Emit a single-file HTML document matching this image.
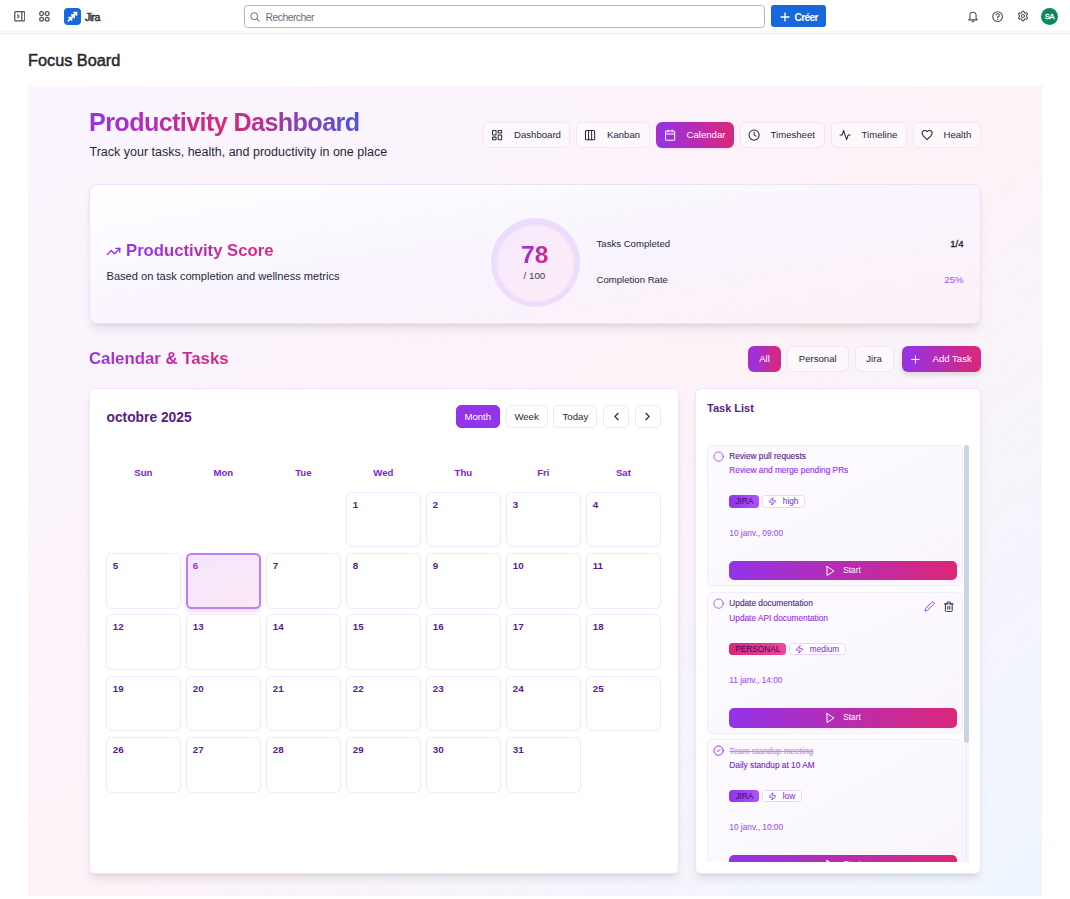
<!DOCTYPE html>
<html><head><meta charset="utf-8">
<style>
*{box-sizing:border-box;margin:0;padding:0}
html,body{width:1070px;height:899px;overflow:hidden;background:#fff}
body{font-family:"Liberation Sans",sans-serif;position:relative;color:#1f2937}
.abs{position:absolute}
svg{display:block}
/* top nav */
#topnav{position:absolute;left:0;top:0;width:1070px;height:34px;border-bottom:1px solid #ededef;box-shadow:inset 0 -2px 0 #f8f8f9;background:#fff}
/* panel */
#panel{position:absolute;left:28px;top:86px;width:1014px;height:810px;
 background:linear-gradient(to bottom right,#faf5ff 0%,#fdf2f8 50%,#eff6ff 100%)}
.grad-text{background:linear-gradient(90deg,#9333ea,#db2777,#4b55dc);-webkit-background-clip:text;background-clip:text;color:transparent}
.grad-text2{background:linear-gradient(90deg,#9333ea,#db2777);-webkit-background-clip:text;background-clip:text;color:transparent}
.navbtn{position:absolute;top:122px;height:25.5px;border:1px solid #f1e6f1;border-radius:6px;background:rgba(255,255,255,0.45);font-size:9.6px;color:#1f2937;line-height:23.5px;white-space:nowrap}
.navbtn svg{position:absolute;top:5.6px;left:7.3px}
.navbtn span{position:absolute;left:30px;top:0}
.navbtn.active{background:linear-gradient(90deg,#9333ea,#db2777);border-color:transparent;color:#fff;box-shadow:0 1px 2px rgba(147,51,234,.12)}
.card{position:absolute;background:#fff;border:1px solid #efe3fd;border-radius:5.5px;box-shadow:0 7px 10px -2px rgba(0,0,0,.09),0 3px 4px -3px rgba(0,0,0,.09)}
.fbtn{position:absolute;top:346.3px;height:25.4px;border:1px solid #f1e6f1;border-radius:6px;background:rgba(255,255,255,0.45);font-size:9.6px;color:#1f2937;line-height:23.4px;text-align:center;white-space:nowrap}
.cbtn{position:absolute;top:405.2px;height:22.4px;border:1px solid #ebebef;border-radius:5px;background:#fff;font-size:9.6px;color:#1f2937;line-height:21px;text-align:center}
.cell{position:absolute;width:74.4px;height:55.6px;border:1px solid #f2e8fe;border-radius:5.5px;background:#fff}
.cell b{position:absolute;left:5.5px;top:5px;font-size:9.8px;line-height:14px;color:#581c87;font-weight:700}
.dow{position:absolute;top:466px;width:74.4px;text-align:center;font-size:9.6px;line-height:14px;font-weight:700;color:#7e22ce}
.cell.today{border:2px solid #bb80f8;background:linear-gradient(to bottom right,#f3e6fd,#fce8f4);box-shadow:0 3px 5px rgba(120,50,180,.15)}
.cell.today b{left:4.5px;top:4px;color:#9333ea}
.task{position:absolute;left:0;width:256.3px;height:141.5px;border:1px solid #f3eafd;border-radius:5.5px;background:linear-gradient(to bottom right,#fdfbff,#faf5fe)}
.tt{position:absolute;left:21.6px;font-size:8.3px;line-height:11px;white-space:nowrap;-webkit-text-stroke:0.12px currentColor}
.badge{position:absolute;height:12.4px;border-radius:3.5px;font-size:8.3px;line-height:12.4px;color:#3b0764;text-align:center}
.badge.pri{background:#fff;border:1px solid #e9d5ff;line-height:10.4px;color:#7e22ce;text-align:left}
.startbtn{position:absolute;left:21.7px;top:115px;width:227.6px;height:19.7px;border-radius:5px;background:linear-gradient(90deg,#9333ea,#db2777);color:#fff;font-size:8.3px;line-height:19px}
</style></head>
<body>
<div id="topnav">
 <svg class="abs" style="left:13.5px;top:11.2px" width="11.5" height="10.5" viewBox="0 0 12 11"><rect x="0.75" y="0.75" width="10.5" height="9.5" rx="1.2" fill="none" stroke="#505258" stroke-width="1.3"/><line x1="8.2" y1="1" x2="8.2" y2="10" stroke="#505258" stroke-width="1.3"/><path d="M3.4 3.6 L5.2 5.5 L3.4 7.4" fill="none" stroke="#505258" stroke-width="1.2"/></svg>
 <svg class="abs" style="left:39px;top:11px" width="11" height="11" viewBox="0 0 11 11"><g fill="none" stroke="#505258" stroke-width="1.25"><circle cx="2.6" cy="2.6" r="1.9"/><circle cx="8.2" cy="2.6" r="1.9"/><circle cx="2.6" cy="8.2" r="1.9"/><circle cx="8.2" cy="8.2" r="1.9"/></g></svg>
 <div class="abs" style="left:64px;top:8px;width:17px;height:17px;border-radius:4px;background:#1868db"></div>
 <svg class="abs" style="left:64px;top:8px" width="17" height="17" viewBox="0 0 17 17"><g fill="none" stroke="#fff" stroke-width="1.55" stroke-linejoin="miter" stroke-linecap="butt"><path d="M9.4 4.6 H12.6 V7.8 M12.4 4.8 L9.3 7.9"/><path d="M7 7 H10.2 V10.2 M10 7.2 L6.9 10.3"/><path d="M4.4 9.6 H7.6 V12.8 M7.4 9.8 L3.8 13.4"/></g></svg>
 <div class="abs" style="left:85px;top:10px;font-size:10.6px;line-height:14px;font-weight:400;-webkit-text-stroke:0.4px #292a2e;color:#292a2e;letter-spacing:-0.6px">Jira</div>
 <div class="abs" style="left:244px;top:5px;width:521px;height:23px;border:1px solid #b5b7bd;border-radius:3.5px;background:#fff"></div>
 <svg class="abs" style="left:250px;top:12px" width="10" height="10" viewBox="0 0 11 11"><circle cx="4.6" cy="4.6" r="3.8" fill="none" stroke="#6b6e76" stroke-width="1.1"/><line x1="7.4" y1="7.4" x2="10" y2="10" stroke="#6b6e76" stroke-width="1.2" stroke-linecap="round"/></svg>
 <div class="abs" style="left:265.6px;top:10.8px;font-size:10.4px;line-height:14px;color:#6b6e76;letter-spacing:-0.55px">Rechercher</div>
 <div class="abs" style="left:771px;top:5.3px;width:55px;height:22px;border-radius:3px;background:#1868db"></div>
 <svg class="abs" style="left:779.5px;top:11.5px" width="10" height="10" viewBox="0 0 10 10"><path d="M5 0.5 V9.5 M0.5 5 H9.5" stroke="#fff" stroke-width="1.3"/></svg>
 <div class="abs" style="left:794.5px;top:10.8px;font-size:10.2px;line-height:14px;font-weight:700;color:#fff;letter-spacing:-0.65px">Créer</div>
 <svg class="abs" style="left:966.5px;top:10.5px" width="12" height="12" viewBox="0 0 12 12"><path d="M2.9 7.6 V4.6 A3.1 3.4 0 0 1 9.1 4.6 V7.6 L10.3 8.9 H1.7 Z" fill="none" stroke="#505258" stroke-width="1.15" stroke-linejoin="round"/><path d="M4.8 9.4 A1.2 1.2 0 0 0 7.2 9.4" fill="none" stroke="#505258" stroke-width="1.15"/></svg>
 <svg class="abs" style="left:992px;top:11px" width="11.2" height="11.2" viewBox="0 0 12 12"><circle cx="6" cy="6" r="5.2" fill="none" stroke="#505258" stroke-width="1.2"/><path d="M4.3 4.6 A1.75 1.75 0 1 1 6.6 6.3 C6.1 6.5 6 6.8 6 7.4" fill="none" stroke="#505258" stroke-width="1.2"/><circle cx="6" cy="9" r="0.75" fill="#505258"/></svg>
 <svg class="abs" style="left:1016.5px;top:10px" width="12" height="12" viewBox="0 0 24 24"><path d="M12.22 2h-.44a2 2 0 0 0-2 2v.18a2 2 0 0 1-1 1.73l-.43.25a2 2 0 0 1-2 0l-.15-.08a2 2 0 0 0-2.73.73l-.22.38a2 2 0 0 0 .73 2.73l.15.1a2 2 0 0 1 1 1.72v.51a2 2 0 0 1-1 1.74l-.15.09a2 2 0 0 0-.73 2.73l.22.38a2 2 0 0 0 2.73.73l.15-.08a2 2 0 0 1 2 0l.43.25a2 2 0 0 1 1 1.73V20a2 2 0 0 0 2 2h.44a2 2 0 0 0 2-2v-.18a2 2 0 0 1 1-1.73l.43-.25a2 2 0 0 1 2 0l.15.08a2 2 0 0 0 2.73-.73l.22-.39a2 2 0 0 0-.73-2.73l-.15-.08a2 2 0 0 1-1-1.74v-.5a2 2 0 0 1 1-1.74l.15-.09a2 2 0 0 0 .73-2.73l-.22-.38a2 2 0 0 0-2.73-.73l-.15.08a2 2 0 0 1-2 0l-.43-.25a2 2 0 0 1-1-1.73V4a2 2 0 0 0-2-2z" fill="none" stroke="#505258" stroke-width="2.2"/><circle cx="12" cy="12" r="3" fill="none" stroke="#505258" stroke-width="2.2"/></svg>
 <div class="abs" style="left:1041px;top:8px;width:17px;height:17px;border-radius:50%;background:#0a8a58;color:#fff;font-size:7.6px;font-weight:400;-webkit-text-stroke:0.3px #fff;line-height:17.4px;text-align:center;letter-spacing:-0.4px">SA</div>
</div>
<div class="abs" style="left:28px;top:50.4px;font-size:16.3px;line-height:20px;color:#292a2e;font-weight:400;-webkit-text-stroke:0.5px #292a2e;letter-spacing:0px">Focus Board</div>
<div id="panel"></div>
<div class="abs grad-text" style="left:89px;top:106.5px;font-size:25.2px;line-height:30px;font-weight:700;letter-spacing:-0.62px;padding-right:1px">Productivity Dashboard</div>
<div class="abs" style="left:89.5px;top:143.5px;font-size:12.5px;line-height:17px;color:#1f2937">Track your tasks, health, and productivity in one place</div>
<div class="navbtn" style="left:483px;width:86.5px"><svg width="12.2" height="12.2" viewBox="0 0 24 24" fill="none" stroke="#1f2937" stroke-width="2" stroke-linecap="round" stroke-linejoin="round" style=""><rect width="7" height="9" x="3" y="3" rx="1"/><rect width="7" height="5" x="14" y="3" rx="1"/><rect width="7" height="9" x="14" y="12" rx="1"/><rect width="7" height="5" x="3" y="16" rx="1"/></svg><span>Dashboard</span></div>
<div class="navbtn" style="left:576px;width:73.5px"><svg width="12.2" height="12.2" viewBox="0 0 24 24" fill="none" stroke="#1f2937" stroke-width="2" stroke-linecap="round" stroke-linejoin="round" style=""><rect width="18" height="18" x="3" y="3" rx="2"/><path d="M9 3v18"/><path d="M15 3v18"/></svg><span>Kanban</span></div>
<div class="navbtn active" style="left:655.5px;width:78.5px"><svg width="12.2" height="12.2" viewBox="0 0 24 24" fill="none" stroke="#fff" stroke-width="2" stroke-linecap="round" stroke-linejoin="round" style=""><path d="M8 2v4"/><path d="M16 2v4"/><rect width="18" height="18" x="3" y="4" rx="2"/><path d="M3 10h18"/></svg><span>Calendar</span></div>
<div class="navbtn" style="left:739.5px;width:85.5px"><svg width="12.2" height="12.2" viewBox="0 0 24 24" fill="none" stroke="#1f2937" stroke-width="2" stroke-linecap="round" stroke-linejoin="round" style=""><circle cx="12" cy="12" r="10"/><polyline points="12 6 12 12 16 14"/></svg><span>Timesheet</span></div>
<div class="navbtn" style="left:830.5px;width:76.0px"><svg width="12.2" height="12.2" viewBox="0 0 24 24" fill="none" stroke="#1f2937" stroke-width="2" stroke-linecap="round" stroke-linejoin="round" style=""><path d="M22 12h-4l-3 9L9 3l-3 9H2"/></svg><span>Timeline</span></div>
<div class="navbtn" style="left:912.5px;width:68.0px"><svg width="12.2" height="12.2" viewBox="0 0 24 24" fill="none" stroke="#1f2937" stroke-width="2" stroke-linecap="round" stroke-linejoin="round" style=""><path d="M19 14c1.49-1.46 3-3.21 3-5.5A5.5 5.5 0 0 0 16.5 3c-1.76 0-3 .5-4.5 2-1.5-1.5-2.74-2-4.5-2A5.5 5.5 0 0 0 2 8.5c0 2.3 1.5 4.05 3 5.5l7 7Z"/></svg><span>Health</span></div>

<div class="card" style="left:89px;top:184px;width:892px;height:140px;border-radius:8px;background:linear-gradient(to bottom right,#ffffff 0%,#f9f4fe 50%,#fdf0f8 100%);border-color:#ede0fb"></div>
<div class="abs" style="left:106px;top:243.9px"><svg width="15" height="15" viewBox="0 0 24 24" fill="none" stroke="#9333ea" stroke-width="2.2" stroke-linecap="round" stroke-linejoin="round" style=""><polyline points="22 7 13.5 15.5 8.5 10.5 2 17"/><polyline points="16 7 22 7 22 13"/></svg></div>
<div class="abs grad-text2" style="left:126px;top:241px;font-size:16.7px;line-height:20px;font-weight:700;padding-right:1px">Productivity Score</div>
<div class="abs" style="left:106.5px;top:269px;font-size:11.1px;line-height:14px;color:#1f2937">Based on task completion and wellness metrics</div>
<div class="abs" style="left:491px;top:218px;width:89px;height:89px;border-radius:50%;background:#ecdcfd"></div>
<div class="abs" style="left:496px;top:223px;width:79px;height:79px;border-radius:50%;background:linear-gradient(to bottom right,#f5e9fd,#fcecf6);box-shadow:inset 0 1px 3px rgba(120,60,160,.12)"></div>
<div class="abs grad-text2" style="left:521px;top:243px;font-size:24.5px;line-height:24px;font-weight:700;padding-right:1px">78</div>
<div class="abs" style="left:523.5px;top:269px;font-size:9.8px;line-height:13px;color:#374151">/ 100</div>
<div class="abs" style="left:596.5px;top:237.5px;font-size:9.6px;line-height:12px;color:#1f2937">Tasks Completed</div>
<div class="abs" style="right:106.5px;top:237.5px;font-size:9.6px;line-height:12px;color:#111827;font-weight:400;-webkit-text-stroke:0.3px #111827">1/4</div>
<div class="abs" style="left:596.5px;top:274px;font-size:9.6px;line-height:12px;color:#1f2937">Completion Rate</div>
<div class="abs" style="right:106.5px;top:274px;font-size:9.6px;line-height:12px;color:#9b4df2">25%</div>

<div class="abs grad-text2" style="left:89px;top:349px;font-size:16.8px;line-height:20px;font-weight:700;padding-right:1px">Calendar &amp; Tasks</div>
<div class="fbtn" style="left:748px;width:33px;background:linear-gradient(90deg,#9333ea,#db2777);border-color:transparent;color:#fff">All</div>
<div class="fbtn" style="left:787px;width:61.5px">Personal</div>
<div class="fbtn" style="left:854.5px;width:39px">Jira</div>
<div class="fbtn" style="left:901.5px;width:79.5px;background:linear-gradient(90deg,#9333ea,#db2777);border-color:transparent;color:#fff;box-shadow:0 3px 5px rgba(0,0,0,.12);text-align:left"><svg width="12.9" height="12.9" viewBox="0 0 24 24" fill="none" stroke="#fff" stroke-width="1.8" stroke-linecap="round" stroke-linejoin="round" style="position:absolute;left:6.8px;top:5.4px"><path d="M5 12h14"/><path d="M12 5v14"/></svg><span style="position:absolute;left:30px">Add Task</span></div>

<div class="card" style="left:89px;top:388px;width:589.5px;height:486px"></div>
<div class="abs" style="left:106.5px;top:408.5px;font-size:13.8px;line-height:18px;font-weight:700;color:#581c87">octobre 2025</div>
<div class="cbtn" style="left:455.8px;width:44.0px;background:#9333ea;border-color:#9333ea;color:#fff">Month</div>
<div class="cbtn" style="left:505.5px;width:42.200000000000045px;">Week</div>
<div class="cbtn" style="left:553.4px;width:44.0px;">Today</div>
<div class="cbtn" style="left:603.2px;width:25.7px"><svg width="13" height="13" viewBox="0 0 24 24" fill="none" stroke="#1f2937" stroke-width="2.1" stroke-linecap="round" stroke-linejoin="round" style="position:absolute;left:5.4px;top:4.2px"><path d="m15 18-6-6 6-6"/></svg></div>
<div class="cbtn" style="left:634.6px;width:26.1px"><svg width="13" height="13" viewBox="0 0 24 24" fill="none" stroke="#1f2937" stroke-width="2.1" stroke-linecap="round" stroke-linejoin="round" style="position:absolute;left:5.6px;top:4.2px"><path d="m9 18 6-6-6-6"/></svg></div>
<div class="dow" style="left:106.2px">Sun</div>
<div class="dow" style="left:186.2px">Mon</div>
<div class="dow" style="left:266.2px">Tue</div>
<div class="dow" style="left:346.2px">Wed</div>
<div class="dow" style="left:426.2px">Thu</div>
<div class="dow" style="left:506.2px">Fri</div>
<div class="dow" style="left:586.2px">Sat</div>
<div class="cell" style="left:346.2px;top:491.7px"><b>1</b></div>
<div class="cell" style="left:426.2px;top:491.7px"><b>2</b></div>
<div class="cell" style="left:506.2px;top:491.7px"><b>3</b></div>
<div class="cell" style="left:586.2px;top:491.7px"><b>4</b></div>
<div class="cell" style="left:106.2px;top:553px"><b>5</b></div>
<div class="cell today" style="left:186.2px;top:553px"><b>6</b></div>
<div class="cell" style="left:266.2px;top:553px"><b>7</b></div>
<div class="cell" style="left:346.2px;top:553px"><b>8</b></div>
<div class="cell" style="left:426.2px;top:553px"><b>9</b></div>
<div class="cell" style="left:506.2px;top:553px"><b>10</b></div>
<div class="cell" style="left:586.2px;top:553px"><b>11</b></div>
<div class="cell" style="left:106.2px;top:614.4px"><b>12</b></div>
<div class="cell" style="left:186.2px;top:614.4px"><b>13</b></div>
<div class="cell" style="left:266.2px;top:614.4px"><b>14</b></div>
<div class="cell" style="left:346.2px;top:614.4px"><b>15</b></div>
<div class="cell" style="left:426.2px;top:614.4px"><b>16</b></div>
<div class="cell" style="left:506.2px;top:614.4px"><b>17</b></div>
<div class="cell" style="left:586.2px;top:614.4px"><b>18</b></div>
<div class="cell" style="left:106.2px;top:675.6px"><b>19</b></div>
<div class="cell" style="left:186.2px;top:675.6px"><b>20</b></div>
<div class="cell" style="left:266.2px;top:675.6px"><b>21</b></div>
<div class="cell" style="left:346.2px;top:675.6px"><b>22</b></div>
<div class="cell" style="left:426.2px;top:675.6px"><b>23</b></div>
<div class="cell" style="left:506.2px;top:675.6px"><b>24</b></div>
<div class="cell" style="left:586.2px;top:675.6px"><b>25</b></div>
<div class="cell" style="left:106.2px;top:737.1px"><b>26</b></div>
<div class="cell" style="left:186.2px;top:737.1px"><b>27</b></div>
<div class="cell" style="left:266.2px;top:737.1px"><b>28</b></div>
<div class="cell" style="left:346.2px;top:737.1px"><b>29</b></div>
<div class="cell" style="left:426.2px;top:737.1px"><b>30</b></div>
<div class="cell" style="left:506.2px;top:737.1px"><b>31</b></div>
<div class="card" style="left:694.8px;top:388.3px;width:286px;height:485.7px"></div>
<div class="abs" style="left:707px;top:401px;font-size:11px;line-height:14px;font-weight:700;color:#581c87">Task List</div>
<div class="abs" style="left:706.7px;top:444.7px;width:262.5px;height:417.3px;overflow:hidden"><div class="task" style="top:0px"><svg width="11.2" height="11.2" viewBox="0 0 24 24" fill="none" stroke="#a855f7" stroke-width="2" stroke-linecap="round" stroke-linejoin="round" style="position:absolute;left:4.95px;top:5px"><circle cx="12" cy="12" r="10"/></svg>
<div class="tt" style="top:5.3px;color:#581c87">Review pull requests</div>
<div class="tt" style="top:19.8px;color:#9333ea">Review and merge pending PRs</div>
<div class="badge" style="left:21.7px;top:49.6px;width:30px;background:linear-gradient(90deg,#9333ea,#a855f7)">JIRA</div>
<div class="badge pri" style="left:54.7px;top:49.6px;width:42.9px"><svg width="8.8" height="8.8" viewBox="0 0 24 24" fill="none" stroke="#9333ea" stroke-width="2.3" stroke-linecap="round" stroke-linejoin="round" style="position:absolute;left:4.9px;top:1.2px"><path d="M4 14a1 1 0 0 1-.78-1.63l9.9-10.2a.5.5 0 0 1 .86.46l-1.92 6.02A1 1 0 0 0 13 10h7a1 1 0 0 1 .78 1.63l-9.9 10.2a.5.5 0 0 1-.86-.46l1.92-6.02A1 1 0 0 0 11 14z"/></svg><span style="position:absolute;left:19.4px">high</span></div>
<div class="tt" style="top:82px;color:#a855f7">10 janv., 09:00</div>
<div class="startbtn"><svg width="12" height="12" viewBox="0 0 24 24" fill="none" stroke="#fff" stroke-width="2" stroke-linecap="round" stroke-linejoin="round" style="position:absolute;left:94.8px;top:4px"><polygon points="6 3 20 12 6 21 6 3"/></svg><span style="position:absolute;left:113.8px">Start</span></div>
</div>
<div class="task" style="top:147.4px"><svg width="11.2" height="11.2" viewBox="0 0 24 24" fill="none" stroke="#a855f7" stroke-width="2" stroke-linecap="round" stroke-linejoin="round" style="position:absolute;left:4.95px;top:5px"><circle cx="12" cy="12" r="10"/></svg>
<div class="tt" style="top:5.3px;color:#581c87">Update documentation</div>
<div class="tt" style="top:19.8px;color:#9333ea">Update API documentation</div>
<div class="badge" style="left:21.7px;top:49.6px;width:57px;background:linear-gradient(90deg,#db2777,#ec4899)">PERSONAL</div>
<div class="badge pri" style="left:81.7px;top:49.6px;width:56.6px"><svg width="8.8" height="8.8" viewBox="0 0 24 24" fill="none" stroke="#9333ea" stroke-width="2.3" stroke-linecap="round" stroke-linejoin="round" style="position:absolute;left:4.9px;top:1.2px"><path d="M4 14a1 1 0 0 1-.78-1.63l9.9-10.2a.5.5 0 0 1 .86.46l-1.92 6.02A1 1 0 0 0 13 10h7a1 1 0 0 1 .78 1.63l-9.9 10.2a.5.5 0 0 1-.86-.46l1.92-6.02A1 1 0 0 0 11 14z"/></svg><span style="position:absolute;left:19.4px">medium</span></div>
<div class="tt" style="top:82px;color:#a855f7">11 janv., 14:00</div>
<div class="startbtn"><svg width="12" height="12" viewBox="0 0 24 24" fill="none" stroke="#fff" stroke-width="2" stroke-linecap="round" stroke-linejoin="round" style="position:absolute;left:94.8px;top:4px"><polygon points="6 3 20 12 6 21 6 3"/></svg><span style="position:absolute;left:113.8px">Start</span></div>
<svg width="11" height="11" viewBox="0 0 24 24" fill="none" stroke="#9333ea" stroke-width="2" stroke-linecap="round" stroke-linejoin="round" style="position:absolute;left:216.6px;top:7.8px"><path d="M17 3a2.85 2.83 0 1 1 4 4L7.5 20.5 2 22l1.5-5.5Z"/></svg><svg width="11.6" height="11.6" viewBox="0 0 24 24" fill="none" stroke="#1f2937" stroke-width="2" stroke-linecap="round" stroke-linejoin="round" style="position:absolute;left:235px;top:7.5px"><path d="M3 6h18"/><path d="M19 6v14c0 1-1 2-2 2H7c-1 0-2-1-2-2V6"/><path d="M8 6V4c0-1 1-2 2-2h4c1 0 2 1 2 2v2"/><line x1="10" x2="10" y1="11" y2="17"/><line x1="14" x2="14" y1="11" y2="17"/></svg></div>
<div class="task" style="top:294.8px"><svg width="11.2" height="11.2" viewBox="0 0 24 24" fill="none" stroke="#9333ea" stroke-width="2.1" stroke-linecap="round" stroke-linejoin="round" style="position:absolute;left:4.95px;top:5px"><circle cx="12" cy="12" r="10"/><path d="m9 12 2 2 4-4"/></svg>
<div class="tt" style="top:5.3px;color:#c08afa;text-decoration:line-through">Team standup meeting</div>
<div class="tt" style="top:19.8px;color:#7e22ce">Daily standup at 10 AM</div>
<div class="badge" style="left:21.7px;top:49.6px;width:30px;background:linear-gradient(90deg,#9333ea,#a855f7)">JIRA</div>
<div class="badge pri" style="left:54.7px;top:49.6px;width:40px"><svg width="8.8" height="8.8" viewBox="0 0 24 24" fill="none" stroke="#9333ea" stroke-width="2.3" stroke-linecap="round" stroke-linejoin="round" style="position:absolute;left:4.9px;top:1.2px"><path d="M4 14a1 1 0 0 1-.78-1.63l9.9-10.2a.5.5 0 0 1 .86.46l-1.92 6.02A1 1 0 0 0 13 10h7a1 1 0 0 1 .78 1.63l-9.9 10.2a.5.5 0 0 1-.86-.46l1.92-6.02A1 1 0 0 0 11 14z"/></svg><span style="position:absolute;left:19.4px">low</span></div>
<div class="tt" style="top:82px;color:#a855f7">10 janv., 10:00</div>
<div class="startbtn"><svg width="12" height="12" viewBox="0 0 24 24" fill="none" stroke="#fff" stroke-width="2" stroke-linecap="round" stroke-linejoin="round" style="position:absolute;left:94.8px;top:4px"><polygon points="6 3 20 12 6 21 6 3"/></svg><span style="position:absolute;left:113.8px">Start</span></div>
</div>
<div class="task" style="top:442.20000000000005px"><svg width="11.2" height="11.2" viewBox="0 0 24 24" fill="none" stroke="#a855f7" stroke-width="2" stroke-linecap="round" stroke-linejoin="round" style="position:absolute;left:4.95px;top:5px"><circle cx="12" cy="12" r="10"/></svg>
<div class="tt" style="top:5.3px;color:#581c87">Fix login bug</div>
<div class="tt" style="top:19.8px;color:#9333ea">Resolve authentication issue</div>
<div class="badge" style="left:21.7px;top:49.6px;width:30px;background:linear-gradient(90deg,#9333ea,#a855f7)">JIRA</div>
<div class="badge pri" style="left:54.7px;top:49.6px;width:42.9px"><svg width="8.8" height="8.8" viewBox="0 0 24 24" fill="none" stroke="#9333ea" stroke-width="2.3" stroke-linecap="round" stroke-linejoin="round" style="position:absolute;left:4.9px;top:1.2px"><path d="M4 14a1 1 0 0 1-.78-1.63l9.9-10.2a.5.5 0 0 1 .86.46l-1.92 6.02A1 1 0 0 0 13 10h7a1 1 0 0 1 .78 1.63l-9.9 10.2a.5.5 0 0 1-.86-.46l1.92-6.02A1 1 0 0 0 11 14z"/></svg><span style="position:absolute;left:19.4px">high</span></div>
<div class="tt" style="top:82px;color:#a855f7">12 janv., 11:00</div>
<div class="startbtn"><svg width="12" height="12" viewBox="0 0 24 24" fill="none" stroke="#fff" stroke-width="2" stroke-linecap="round" stroke-linejoin="round" style="position:absolute;left:94.8px;top:4px"><polygon points="6 3 20 12 6 21 6 3"/></svg><span style="position:absolute;left:113.8px">Start</span></div>
</div>
</div>
<div class="abs" style="left:963.5px;top:444.7px;width:5.6px;height:417.3px;background:#f1f5f9"></div>
<div class="abs" style="left:963.5px;top:444.7px;width:5.6px;height:298.5px;background:#cbd5e1;border-radius:3px"></div>
</body></html>
